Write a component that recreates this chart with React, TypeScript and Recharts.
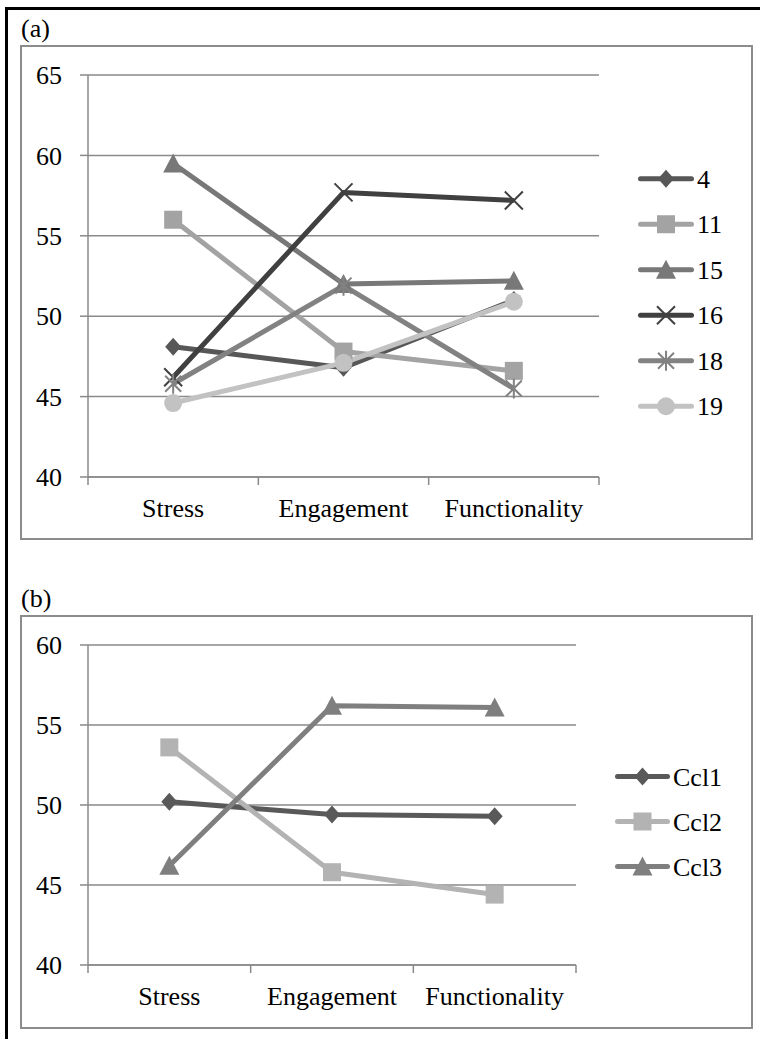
import { LineChart, Line, XAxis, YAxis, CartesianGrid, Legend } from 'recharts';

const categories = ['Stress', 'Engagement', 'Functionality'];

// panel (a): single cases
const case4 = [48.1, 46.8, 51.0];
const case11 = [56.0, 47.8, 46.6];
const case15 = [59.5, 52.0, 52.2];
const case16 = [46.2, 57.7, 57.2];
const case18 = [45.8, 51.9, 45.5];
const case19 = [44.6, 47.1, 50.9];
const ticksA = [40, 45, 50, 55, 60, 65];

// panel (b): clusters
const ccl1 = [50.2, 49.4, 49.3];
const ccl2 = [53.6, 45.8, 44.4];
const ccl3 = [46.2, 56.2, 56.1];
const ticksB = [40, 45, 50, 55, 60];

const FONT = 'Tinos, "Liberation Serif", "Times New Roman", "DejaVu Serif", serif';
const GRID = '#8a8a8a';

type Shape = 'diamond' | 'square' | 'triangle' | 'x' | 'star' | 'circle';
type Series = { key: string; name: string; color: string; shape: Shape; values: number[] };

const seriesA: Series[] = [
  { key: 'c4', name: '4', color: '#575757', shape: 'diamond', values: case4 },
  { key: 'c11', name: '11', color: '#a3a3a3', shape: 'square', values: case11 },
  { key: 'c15', name: '15', color: '#787878', shape: 'triangle', values: case15 },
  { key: 'c16', name: '16', color: '#404040', shape: 'x', values: case16 },
  { key: 'c18', name: '18', color: '#828282', shape: 'star', values: case18 },
  { key: 'c19', name: '19', color: '#c2c2c2', shape: 'circle', values: case19 },
];

const seriesB: Series[] = [
  { key: 'ccl1', name: 'Ccl1', color: '#595959', shape: 'diamond', values: ccl1 },
  { key: 'ccl2', name: 'Ccl2', color: '#b3b3b3', shape: 'square', values: ccl2 },
  { key: 'ccl3', name: 'Ccl3', color: '#7f7f7f', shape: 'triangle', values: ccl3 },
];

const buildRows = (series: Series[]) =>
  categories.map((category, i) => {
    const row: any = { category };
    series.forEach((s) => (row[s.key] = s.values[i]));
    return row;
  });

const Marker = ({ shape, cx, cy, color }: { shape: Shape; cx: number; cy: number; color: string }) => {
  switch (shape) {
    case 'diamond':
      return <polygon points={`${cx},${cy - 9} ${cx + 8},${cy} ${cx},${cy + 9} ${cx - 8},${cy}`} fill={color} />;
    case 'square':
      return <rect x={cx - 9} y={cy - 9} width={18} height={18} fill={color} />;
    case 'triangle':
      return <polygon points={`${cx},${cy - 10} ${cx + 10},${cy + 9} ${cx - 10},${cy + 9}`} fill={color} />;
    case 'x':
      return (
        <path
          d={`M${cx - 9},${cy - 9}L${cx + 9},${cy + 9}M${cx + 9},${cy - 9}L${cx - 9},${cy + 9}`}
          stroke={color}
          strokeWidth={2}
        />
      );
    case 'star':
      return (
        <path
          d={`M${cx - 8},${cy - 8}L${cx + 8},${cy + 8}M${cx + 8},${cy - 8}L${cx - 8},${cy + 8}M${cx},${cy - 10}L${cx},${cy + 10}`}
          stroke={color}
          strokeWidth={2}
        />
      );
    default:
      return <circle cx={cx} cy={cy} r={9} fill={color} />;
  }
};

// Excel style: tick marks between the categories, labels in the middle
const CategoryTick = ({ x, y, payload, index, band, count }: any) => (
  <g>
    <line x1={x - band / 2} x2={x - band / 2} y1={y} y2={y + 8} stroke={GRID} strokeWidth={1.5} />
    {index === count - 1 && (
      <line x1={x + band / 2} x2={x + band / 2} y1={y} y2={y + 8} stroke={GRID} strokeWidth={1.5} />
    )}
    <text x={x} y={y + 40} textAnchor="middle" fontSize={26} fontFamily={FONT} fill="#000">
      {payload.value}
    </text>
  </g>
);

// legend keeps the series order (recharts would sort it by name)
const makeLegend = (series: Series[], rowGap: number, lineEnd: number) => () => (
  <svg width={140} height={rowGap * series.length} style={{ overflow: 'visible', display: 'block' }}>
    {series.map((s, i) => {
      const cy = rowGap / 2 + i * rowGap;
      const mid = (7.5 + lineEnd) / 2;
      return (
        <g key={s.key}>
          <line x1={7.5} x2={lineEnd} y1={cy} y2={cy} stroke={s.color} strokeWidth={5} strokeLinecap="round" />
          <Marker shape={s.shape} cx={mid} cy={cy} color={s.color} />
          <text x={lineEnd + 5.5} y={cy} dy={9} fontSize={26} fontFamily={FONT} fill="#000">
            {s.name}
          </text>
        </g>
      );
    })}
  </svg>
);

type PanelProps = {
  series: Series[];
  ticks: number[];
  width: number;
  height: number;
  marginRight: number;
  xAxisHeight: number;
  legendLeft: number;
  legendTop: number;
  rowGap: number;
  lineEnd: number;
};

const Panel = ({ series, ticks, width, height, marginRight, xAxisHeight, legendLeft, legendTop, rowGap, lineEnd }: PanelProps) => {
  const yAxisWidth = 67;
  const band = (width - yAxisWidth - marginRight) / categories.length;
  return (
    <LineChart
      width={width}
      height={height}
      data={buildRows(series)}
      margin={{ top: 29, right: marginRight, bottom: 0, left: 0 }}
    >
      <CartesianGrid vertical={false} stroke={GRID} strokeWidth={1.5} />
      <XAxis
        dataKey="category"
        height={xAxisHeight}
        padding={{ left: band / 2, right: band / 2 }}
        axisLine={{ stroke: GRID, strokeWidth: 1.5 }}
        tickLine={false}
        tickSize={0}
        tickMargin={0}
        interval={0}
        tick={(props: any) => <CategoryTick {...props} band={band} count={categories.length} />}
      />
      <YAxis
        width={yAxisWidth}
        domain={[ticks[0], ticks[ticks.length - 1]]}
        ticks={ticks}
        interval={0}
        axisLine={{ stroke: GRID, strokeWidth: 1.5 }}
        tickLine={{ stroke: GRID, strokeWidth: 1.5 }}
        tickSize={8}
        tickMargin={18}
        tick={{ fill: '#000', fontSize: 26, fontFamily: FONT }}
      />
      <Legend
        layout="horizontal"
        verticalAlign="middle"
        align="center"
        content={makeLegend(series, rowGap, lineEnd)}
        wrapperStyle={{ position: 'absolute', left: legendLeft, top: legendTop, width: 140 }}
      />
      {series.map((s) => (
        <Line
          key={s.key}
          dataKey={s.key}
          name={s.name}
          stroke={s.color}
          strokeWidth={5}
          strokeLinejoin="round"
          isAnimationActive={false}
          activeDot={false}
          dot={(props: any) => (
            <g key={`${s.key}-${props.index}`}>
              <Marker shape={s.shape} cx={props.cx} cy={props.cy} color={s.color} />
            </g>
          )}
        />
      ))}
    </LineChart>
  );
};

const frame: React.CSSProperties = { position: 'absolute', border: '2px solid #8c8c8c', boxSizing: 'border-box' };
const panelLabel: React.CSSProperties = {
  position: 'absolute',
  left: 21,
  fontFamily: FONT,
  fontSize: 26,
  lineHeight: '26px',
  color: '#000',
};

export default function App() {
  return (
    <div style={{ position: 'absolute', left: 0, top: 0, width: 760, height: 1039, background: '#fff', overflow: 'hidden' }}>
      <div
        style={{
          position: 'absolute',
          left: 5,
          top: 7,
          width: 800,
          height: 1100,
          borderTop: '3px solid #000',
          borderLeft: '3px solid #000',
        }}
      />
      <div style={{ ...panelLabel, top: 16 }}>(a)</div>
      <div style={{ ...frame, left: 20, top: 45, width: 733, height: 495 }} />
      <div style={{ position: 'absolute', left: 21, top: 46 }}>
        <Panel
          series={seriesA}
          ticks={ticksA}
          width={731}
          height={493}
          marginRight={153}
          xAxisHeight={62}
          legendLeft={612}
          legendTop={110}
          rowGap={45.5}
          lineEnd={58.5}
        />
      </div>

      <div style={{ ...panelLabel, top: 586 }}>(b)</div>
      <div style={{ ...frame, left: 20, top: 615, width: 733, height: 414 }} />
      <div style={{ position: 'absolute', left: 21, top: 616 }}>
        <Panel
          series={seriesB}
          ticks={ticksB}
          width={731}
          height={412}
          marginRight={176}
          xAxisHeight={63}
          legendLeft={589}
          legendTop={138}
          rowGap={45}
          lineEnd={57.5}
        />
      </div>
    </div>
  );
}
